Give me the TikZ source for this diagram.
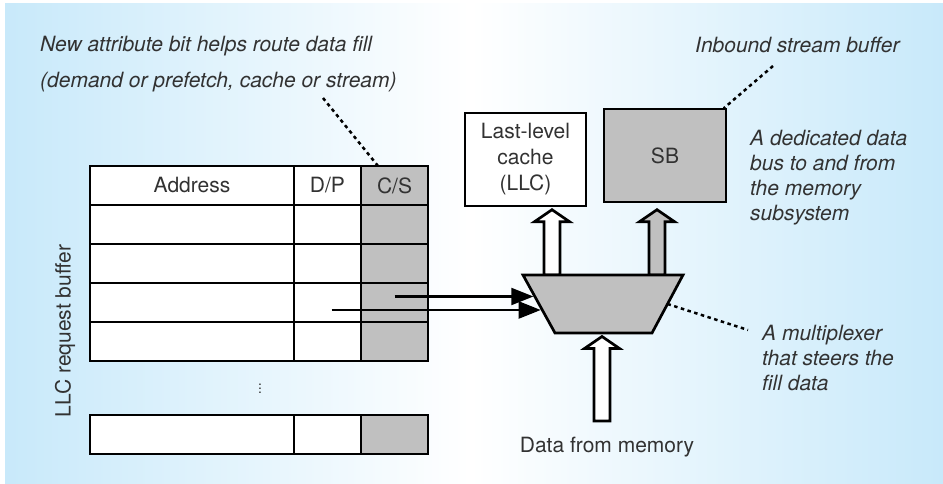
\documentclass[tikz,border=0pt]{standalone}
\usepackage{fontspec}
\setmainfont{TeX Gyre Heros}
\usetikzlibrary{arrows.meta,calc}

\definecolor{bgblue}{RGB}{200,233,250}
\definecolor{cellgray}{RGB}{192,192,192}
\definecolor{inkgray}{RGB}{50,50,50}

\tikzset{
	cell/.style={draw, line width=1.5pt, fill=white, anchor=north west, inner sep=0pt, outer sep=0pt, minimum height=39pt, text=inkgray},
	addrcell/.style={cell, minimum width=204pt},
	flagcell/.style={cell, minimum width=67pt},
	csflag/.style={flagcell, fill=cellgray},
	unitbox/.style={draw, line width=1.4pt, inner sep=0pt, align=center, text=inkgray},
	note/.style={font=\itshape\fontsize{21}{25}\selectfont, text=inkgray, align=left, inner sep=0pt, anchor=west},
	callout/.style={line width=2.5pt, dash pattern=on 3.5pt off 3.5pt},
	sel/.style={line width=2.2pt, -{Triangle[length=22pt,width=17pt]}, shorten >=1.5pt},
	fat/.style={line width=2.7pt, line join=miter,
		to path={let \p1=(\tikztostart), \p2=(\tikztotarget) in
			(\x1-8pt,\y1) -- (\x1-8pt,\y2-12pt) -- (\x1-17.5pt,\y2-12pt) -- (\x1,\y2)
			-- (\x1+17.5pt,\y2-12pt) -- (\x1+8pt,\y2-12pt) -- (\x1+8pt,\y1) -- cycle}}
}

\begin{document}
\begin{tikzpicture}[x=1pt, y=-1pt, font=\fontsize{21}{25}\selectfont]
	\useasboundingbox (0,0) rectangle (943,484);
	% background
	\shade[left color=bgblue, right color=white] (5,4) rectangle (470,483);
	\shade[left color=white, right color=bgblue] (470,4) rectangle (943,483);

	% LLC request buffer
	\node[addrcell] (addr0) at (90,166) {Address};
	\node[flagcell] (dp0) at (294,166) {D/P};
	\node[csflag] (cs0) at (361,166) {C/S};
	\foreach \r in {1,...,4}{
		\node[addrcell] (addr\r) at (90,166+39*\r) {};
		\node[flagcell] (dp\r) at (294,166+39*\r) {};
		\node[csflag] (cs\r) at (361,166+39*\r) {};
	}
	\node[text=inkgray, font=\fontsize{14}{14}\selectfont] (vdots) at (260,386) {$\vdots$};
	\node[addrcell] (addrN) at (90,415) {};
	\node[flagcell] (dpN) at (294,415) {};
	\node[csflag] (csN) at (361,415) {};
	\node[rotate=90, text=inkgray] (buflabel) at (65,331) {LLC request buffer};

	% cache and stream buffer
	\node[unitbox, fill=white, minimum width=121pt, minimum height=93pt, font=\fontsize{21}{26}\selectfont] (llc) at (525.5,159.5) {Last-level\\cache\\(LLC)};
	\node[unitbox, fill=cellgray, minimum width=122pt, minimum height=93pt] (sb) at (665,155.5) {SB};

	% multiplexer
	\coordinate (muxTL) at (523,275);
	\coordinate (muxTR) at (683,275);
	\coordinate (muxBR) at (652,333);
	\coordinate (muxBL) at (555,333);
	\coordinate (toLLC) at (552,275);
	\coordinate (toSB) at (657,275);
	\node[text=inkgray] (mem) at (607,447) {Data from memory};
	\coordinate (fromMem) at (602,421);

	\draw[fat, fill=white] (toLLC) to ($(toLLC |- llc.south)+(0,3)$);
	\draw[fat, fill=cellgray] (toSB) to ($(toSB |- sb.south)+(0,7)$);
	\draw[fat, fill=white] (fromMem) to ($(fromMem |- muxBL)+(0,3.5)$);
	\draw[line width=2.7pt, line join=miter, fill=cellgray] (muxTL) -- (muxTR) -- (muxBR) -- (muxBL) -- cycle;

	% select lines
	\coordinate (selC) at ($(cs3.center)+(0,-6)$);
	\coordinate (selD) at ($(dp3.center)+(4,7.5)$);
	\coordinate (inC) at ($(muxTL)!0.37!(muxBL)$);
	\coordinate (inD) at ($(muxTL)!0.6!(muxBL)$);
	\draw[sel] (selC) -- (selC -| inC);
	\draw[sel] (selD) -- (selD -| inD);

	% notes
	\node[note] (fillnote) at (40,64) {New attribute bit helps route data fill\\[11pt](demand or prefetch, cache or stream)};
	\node[note] (sbnote) at (695,45) {Inbound stream buffer};
	\node[note] (busnote) at (750,177.5) {A dedicated data\\bus to and from\\the memory\\subsystem};
	\node[note] (muxnote) at (762,358.5) {A multiplexer\\that steers the\\fill data};

	\coordinate (fillEnd) at (323,98);
	\coordinate (sbEnd) at (773,66);
	\coordinate (muxEnd) at (748,330);
	\draw[callout] (fillEnd) -- ($(cs0.north west)+(17,0)$);
	\draw[callout] (sbEnd) -- ($(sb.north east)+(-3,0)$);
	\draw[callout] ($(muxTR)!0.5!(muxBR)$) -- (muxEnd);
\end{tikzpicture}
\end{document}
